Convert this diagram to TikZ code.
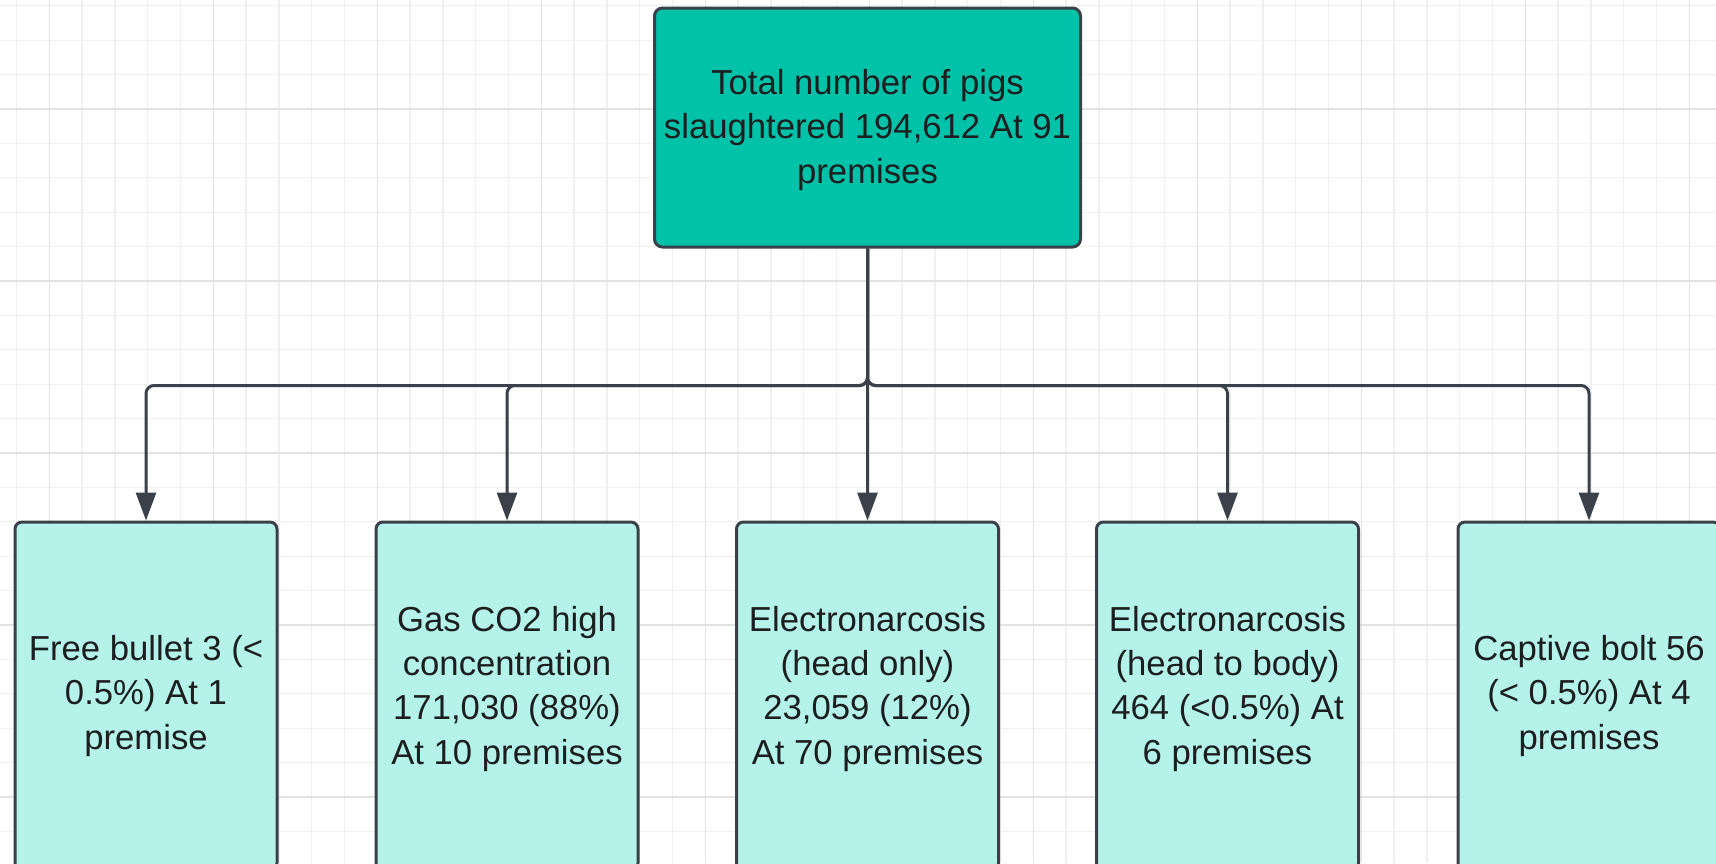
\documentclass[tikz,border=0pt]{standalone}
\usepackage{fontspec}
\setmainfont{Liberation Sans}
\usetikzlibrary{arrows.meta}
\definecolor{tealmain}{RGB}{0,194,168}
\definecolor{tealpale}{RGB}{181,243,234}
\definecolor{edgegrey}{RGB}{58,65,74}
\definecolor{textdark}{RGB}{28,30,32}
\definecolor{gridminor}{RGB}{240,240,240}
\definecolor{gridmajor}{RGB}{226,226,226}
\newcommand{\lowpad}{\rule[-22pt]{0pt}{0pt}}
\newcommand{\toppad}{\rule{0pt}{30pt}}
\begin{document}
\begin{tikzpicture}
[x=1pt,y=-1pt,
mainbox/.style={rectangle,rounded corners=8pt,draw=edgegrey,fill=tealmain,line width=3pt,
  minimum width=426pt,minimum height=239pt,inner sep=0pt,align=center,text=textdark,
  font=\fontsize{34.7}{44.3}\selectfont},
methodbox/.style={mainbox,fill=tealpale,rounded corners=7pt,minimum width=262pt,minimum height=348pt},
arrow/.style={draw=edgegrey,line width=3pt,rounded corners=8pt,-{Triangle[length=28pt,width=20pt]}}]
\useasboundingbox (0,0) rectangle (1716,863);
\clip (0,0) rectangle (1716,863);
\fill[white] (0,0) rectangle (1716,863);

% background grid
\foreach \i in {0,...,52}
	\draw [gridminor,line width=1.3pt] (16.5+32.8*\i,0) -- (16.5+32.8*\i,863);
\foreach \j in {0,...,25}
	\draw [gridminor,line width=1.3pt] (0,5.8+34.4*\j) -- (1716,5.8+34.4*\j);
\foreach \i in {0,...,10}
	\draw [gridmajor,line width=1.5pt] (49.3+164*\i,0) -- (49.3+164*\i,863);
\foreach \j in {0,...,4}
	\draw [gridmajor,line width=1.5pt] (0,109+172*\j) -- (1716,109+172*\j);

\node (total) at (867.5,127.5) [mainbox] {\toppad Total number of pigs\\slaughtered 194,612 At 91\\premises};

\node (bullet)   at (146,696)  [methodbox] {Free bullet 3 (<\\0.5\%) At 1\\premise};
\node (gas)      at (507,696)  [methodbox] {Gas CO2 high\\concentration\\171,030 (88\%)\\At 10 premises\lowpad};
\node (headonly) at (867.5,696) [methodbox] {Electronarcosis\\(head only)\\23,059 (12\%)\\At 70 premises\lowpad};
\node (headbody) at (1227.5,696) [methodbox] {Electronarcosis\\(head to body)\\464 (<0.5\%) At\\6 premises\lowpad};
\node (bolt)     at (1589,696) [methodbox] {Captive bolt 56\\(< 0.5\%) At 4\\premises};

\foreach \to in {bullet, gas, headonly, headbody, bolt}
	\draw [arrow] (total.south) -- ++(0,137) -| (\to.north);

\end{tikzpicture}
\end{document}
